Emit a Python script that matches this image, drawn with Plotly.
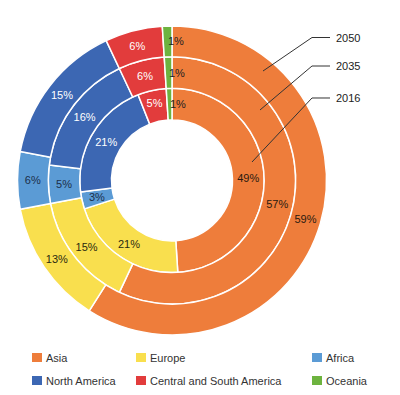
import math
import plotly.graph_objects as go

# ---- data ----
regions = ["Asia", "Europe", "Africa", "North America", "Central and South America", "Oceania"]
years = ["2016", "2035", "2050"]
share_2016 = [49, 21, 3, 21, 5, 1]
share_2035 = [57, 15, 5, 16, 6, 1]
share_2050 = [59, 13, 6, 15, 6, 1]

colors = ["#EE7D3B", "#F9DF4E", "#5B9BD5", "#3C67B3", "#E23C3C", "#6DB33F"]
text_colors = ["#2a1a10", "#2a2a10", "#1c2f4a", "#ffffff", "#ffffff", "#222222"]

# ---- layout geometry (pixels) ----
W, H = 400, 395
cx, cy = 172, 180.4
radii = [60.5, 92.2, 123.7, 154.5]  # hole, inner, middle, outer boundaries
FONT = "Liberation Sans, Arial, Helvetica, sans-serif"


def domain(r):
    return dict(x=[(cx - r) / W, (cx + r) / W], y=[(H - cy - r) / H, (H - cy + r) / H])


def px(x, y):
    return x / W, 1 - y / H


fig = go.Figure()
shapes = []
annotations = []

for i, vals in enumerate([share_2016, share_2035, share_2050]):
    r_out = radii[i + 1]
    r_in = radii[i]
    total = sum(vals)
    # small slices get their label as an annotation (plotly pushes them off-centre)
    positions = ["inside" if v / total > 0.035 else "none" for v in vals]
    fig.add_trace(go.Pie(
        labels=regions,
        values=vals,
        name=years[i],
        hole=r_in / r_out,
        domain=domain(r_out),
        sort=False,
        direction="clockwise",
        rotation=0,
        marker=dict(colors=colors, line=dict(color="white", width=1.5)),
        texttemplate="%{value}%",
        textposition=positions,
        insidetextorientation="horizontal",
        insidetextfont=dict(color=text_colors, size=11, family=FONT),
        hoverinfo="skip",
        showlegend=False,
    ))
    cum = 0
    r_mid = (r_in + r_out) / 2
    for k, v in enumerate(vals):
        if positions[k] == "none":
            theta = 2 * math.pi * (cum + v / 2) / total
            x = cx + r_mid * math.sin(theta)
            y = cy - r_mid * math.cos(theta)
            X, Y = px(x, y)
            tiny = v / total < 0.02
            annotations.append(dict(x=X, y=Y, xref="paper", yref="paper", text=f"{v}%",
                                    showarrow=False,
                                    xanchor="left" if tiny else "center",
                                    yanchor="middle",
                                    xshift=-2 if tiny else 0,
                                    font=dict(size=11, color=text_colors[k], family=FONT)))
        cum += v

# leader lines for ring labels
leaders = {
    "2050": [(330, 37.5), (312, 37.5), (263, 71)],
    "2035": [(330, 66), (312, 66), (260, 110)],
    "2016": [(330, 98), (312, 98), (252, 162)],
}
for yr, pts in leaders.items():
    path = ""
    for j, (x, y) in enumerate(pts):
        X, Y = px(x, y)
        path += ("M" if j == 0 else " L") + f" {X:.5f} {Y:.5f}"
    shapes.append(dict(type="path", path=path, xref="paper", yref="paper",
                       line=dict(color="#333333", width=1)))
    X, Y = px(334, pts[0][1])
    annotations.append(dict(x=X, y=Y, xref="paper", yref="paper", text=yr,
                            showarrow=False, xanchor="left", yanchor="middle",
                            font=dict(size=11, color="#222222", family=FONT)))

# legend (drawn manually to match layout)
leg_cols = [32, 136, 312]
leg_rows = [357.5, 380.5]
for k, name in enumerate(regions):
    x0 = leg_cols[k % 3]
    yc = leg_rows[k // 3]
    X0, Y0 = px(x0, yc - 4.5)
    X1, Y1 = px(x0 + 10, yc + 4.5)
    shapes.append(dict(type="rect", xref="paper", yref="paper", x0=X0, x1=X1, y0=Y0, y1=Y1,
                       fillcolor=colors[k], line=dict(width=0)))
    TX, TY = px(x0 + 12, yc)
    annotations.append(dict(x=TX, y=TY, xref="paper", yref="paper", text=name,
                            showarrow=False, xanchor="left", yanchor="middle",
                            font=dict(size=11, color="#333333", family=FONT)))

fig.update_layout(
    width=W, height=H,
    margin=dict(l=0, r=0, t=0, b=0),
    paper_bgcolor="white",
    plot_bgcolor="white",
    shapes=shapes,
    annotations=annotations,
    uniformtext=dict(minsize=11, mode="show"),
    font=dict(family=FONT),
)

fig.write_html("out.html", config={"displayModeBar": False},
               post_script="document.body.style.margin='0px';")
